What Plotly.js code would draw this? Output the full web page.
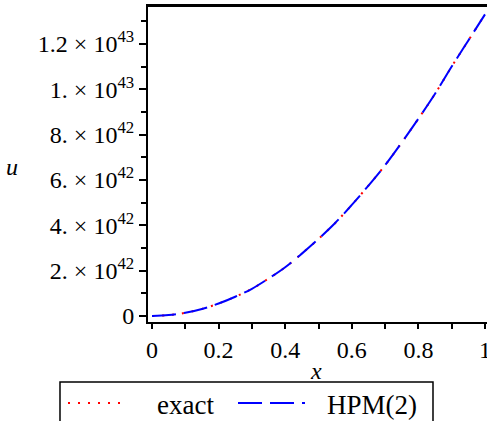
<!DOCTYPE html>
<html>
<head>
<meta charset="utf-8">
<script src="https://cdn.plot.ly/plotly-3.0.1.min.js"></script>
<style>html,body{margin:0;padding:0;background:#fff;overflow:hidden}#chart{width:487px;height:421px}</style>
</head>
<body>
<div id="chart"></div>
<script>
// values
const xValues = [0, 0.05, 0.1, 0.15, 0.2, 0.25, 0.3, 0.35, 0.4, 0.45, 0.5, 0.55, 0.6, 0.65, 0.7, 0.75, 0.8, 0.85, 0.9, 0.95, 1.0];
const exactU  = [0, 0.04e42, 0.14e42, 0.31e42, 0.55e42, 0.85e42, 1.2e42, 1.65e42, 2.15e42, 2.75e42, 3.4e42, 4.1e42, 4.9e42, 5.75e42, 6.65e42, 7.65e42, 8.7e42, 9.8e42, 11.0e42, 12.15e42, 13.3e42];
const hpm2U   = [0, 0.04e42, 0.14e42, 0.31e42, 0.55e42, 0.85e42, 1.2e42, 1.65e42, 2.15e42, 2.75e42, 3.4e42, 4.1e42, 4.9e42, 5.75e42, 6.65e42, 7.65e42, 8.7e42, 9.8e42, 11.0e42, 12.15e42, 13.3e42];
const seriesNames = ['exact', 'HPM(2)'];
const yTickVals = [0, 2e42, 4e42, 6e42, 8e42, 1e43, 1.2e43];
const yTickText = ['0', '2. × 10<sup>42</sup>', '4. × 10<sup>42</sup>', '6. × 10<sup>42</sup>', '8. × 10<sup>42</sup>', '1. × 10<sup>43</sup>', '1.2 × 10<sup>43</sup>'];
const xTickVals = [0, 0.2, 0.4, 0.6, 0.8, 1];
const xTickText = ['0', '0.2', '0.4', '0.6', '0.8', '1'];

const FONT = '"Liberation Serif", "Times New Roman", Times, serif';
const RED = '#ff0000', BLUE = '#0000ff';
const RED_DASH = '2px,8px', BLUE_DASH = '24px,8px';

const traces = [
  {x: xValues, y: exactU, name: seriesNames[0], type: 'scatter', mode: 'lines',
   line: {color: RED, width: 2, dash: RED_DASH, shape: 'spline'}},
  {x: xValues, y: hpm2U, name: seriesNames[1], type: 'scatter', mode: 'lines',
   line: {color: BLUE, width: 2, dash: BLUE_DASH, shape: 'spline'}}
];

// legend drawn as a framed key below the plot (paper coordinates)
const legY = -0.2563, legTextY = -0.262;
const shapes = [
  {type: 'line', xref: 'paper', yref: 'paper', x0: 0, x1: 1, y0: 1, y1: 1,
   line: {color: '#000', width: 2}},
  {type: 'rect', xref: 'paper', yref: 'paper', x0: -0.2596, x1: 0.8407, y0: -0.1899, y1: -0.40,
   line: {color: '#000', width: 1.5}, fillcolor: 'rgba(0,0,0,0)'},
  {type: 'line', xref: 'paper', yref: 'paper', x0: -0.236, x1: -0.059, y0: legY, y1: legY,
   line: {color: RED, width: 2, dash: RED_DASH}},
  {type: 'line', xref: 'paper', yref: 'paper', x0: 0.2655, x1: 0.4631, y0: legY, y1: legY,
   line: {color: BLUE, width: 2, dash: BLUE_DASH}}
];

const layout = {
  width: 487, height: 421,
  margin: {l: 148, r: 0, t: 6, b: 99, autoexpand: false},
  paper_bgcolor: '#fff', plot_bgcolor: '#fff',
  font: {family: FONT, size: 20, color: '#000'},
  showlegend: false,
  xaxis: {range: [-0.012, 1.006], tickvals: xTickVals, ticktext: xTickText,
          ticks: 'outside', ticklen: 5, tickwidth: 2, tickcolor: '#000',
          minor: {dtick: 0.1, tick0: 0, ticks: 'outside', ticklen: 5, tickwidth: 2, tickcolor: '#000'},
          showline: true, linewidth: 2, linecolor: '#000', mirror: true,
          showgrid: false, zeroline: false, fixedrange: true, ticklabeloverflow: 'allow',
          tickfont: {family: FONT, size: 24}},
  yaxis: {range: [-0.265e42, 13.67e42], tickvals: yTickVals, ticktext: yTickText,
          ticks: 'outside', ticklen: 7, tickwidth: 2, tickcolor: '#000',
          minor: {dtick: 1e42, tick0: 0, ticks: 'outside', ticklen: 5, tickwidth: 2, tickcolor: '#000'},
          showline: true, linewidth: 2, linecolor: '#000',
          showgrid: false, zeroline: false, fixedrange: true, ticklabeloverflow: 'allow',
          tickfont: {family: FONT, size: 24}},
  shapes: shapes,
  annotations: [
    {text: '<i>u</i>', xref: 'paper', yref: 'paper', x: -0.401, y: 0.49, xanchor: 'center', yanchor: 'middle',
     showarrow: false, font: {family: FONT, size: 24}},
    {text: '<i>x</i>', xref: 'paper', yref: 'paper', x: 0.496, y: -0.155, xanchor: 'center', yanchor: 'middle',
     showarrow: false, font: {family: FONT, size: 24}},
    {text: seriesNames[0], xref: 'paper', yref: 'paper', x: 0.0206, y: legTextY, xanchor: 'left', yanchor: 'middle',
     showarrow: false, font: {family: FONT, size: 27}},
    {text: seriesNames[1], xref: 'paper', yref: 'paper', x: 0.5221, y: legTextY, xanchor: 'left', yanchor: 'middle',
     showarrow: false, font: {family: FONT, size: 27}}
  ]
};

Plotly.newPlot('chart', traces, layout, {displayModeBar: false, staticPlot: true});
</script>
</body>
</html>
